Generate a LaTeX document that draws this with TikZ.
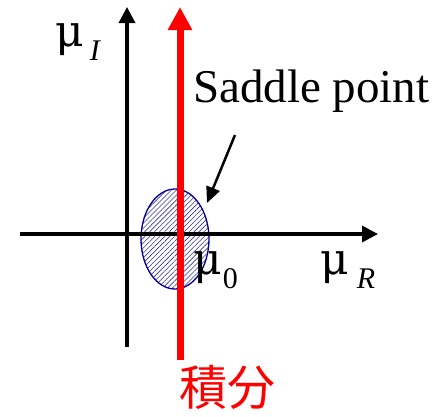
\documentclass[tikz,border=0pt]{standalone}
\usepackage{fontspec}
\setmainfont{Liberation Serif}
\newfontfamily\jpfont{Noto Sans CJK JP}
\newfontfamily\greekfont{DejaVu Serif}
\usetikzlibrary{arrows.meta,patterns.meta,shapes.geometric}
\newcommand{\mulabel}[2]{{\greekfont μ}\hspace{#2}\raisebox{-14pt}{\fontsize{30}{30}\selectfont #1}}
\begin{document}
\begin{tikzpicture}[x=1pt,y=-1pt]
    \useasboundingbox (0,0) rectangle (440,416);

    % Saddle point region
    \node[ellipse, draw=blue!60!black, line width=1.3pt, minimum width=68pt, minimum height=100pt,
          pattern={Lines[angle=45,distance=3.5pt,line width=0.6pt]}, pattern color=blue!55!black!80] (sp) at (175,239) {};

    % Axes
    \coordinate (xl) at (20,234);
    \coordinate (xr) at (378,234);
    \coordinate (yb) at (127,347);
    \coordinate (yt) at (127,7);
    \draw[line width=3.5pt, -{Triangle[length=16pt,width=16pt]}] (xl) -- (xr);
    \draw[line width=3.5pt, -{Triangle[length=16pt,width=16pt]}] (yb) -- (yt);

    % Integration path
    \coordinate (pb) at (180,360);
    \coordinate (pt) at (180,7);
    \draw[red, line width=7pt, -{Triangle[length=23pt,width=23pt]}] (pb) -- (pt);

    % Labels
    \node[anchor=base west, inner sep=0, font=\fontsize{44}{44}\selectfont] (muI) at (55,46) {\mulabel{\textit{I}}{6pt}};
    \node[anchor=base west, inner sep=0, font=\fontsize{44}{44}\selectfont] (mu0) at (193,274) {\mulabel{0}{1pt}};
    \node[anchor=base west, inner sep=0, font=\fontsize{44}{44}\selectfont] (muR) at (320,274) {\mulabel{\textit{R}}{8pt}};
    \node[anchor=base west, inner sep=0, font=\fontsize{47}{47}\selectfont] (saddle) at (193,102) {Saddle point};
    \node[anchor=north west, inner sep=0, red, font=\jpfont\fontsize{48}{48}\selectfont] (int) at (179,365) {積分};

    % Pointer to the saddle point
    \coordinate (tail) at (235,135);
    \coordinate (tip) at (207,203);
    \draw[line width=2.5pt, -{Triangle[length=16pt,width=14pt]}] (tail) -- (tip);
\end{tikzpicture}
\end{document}
